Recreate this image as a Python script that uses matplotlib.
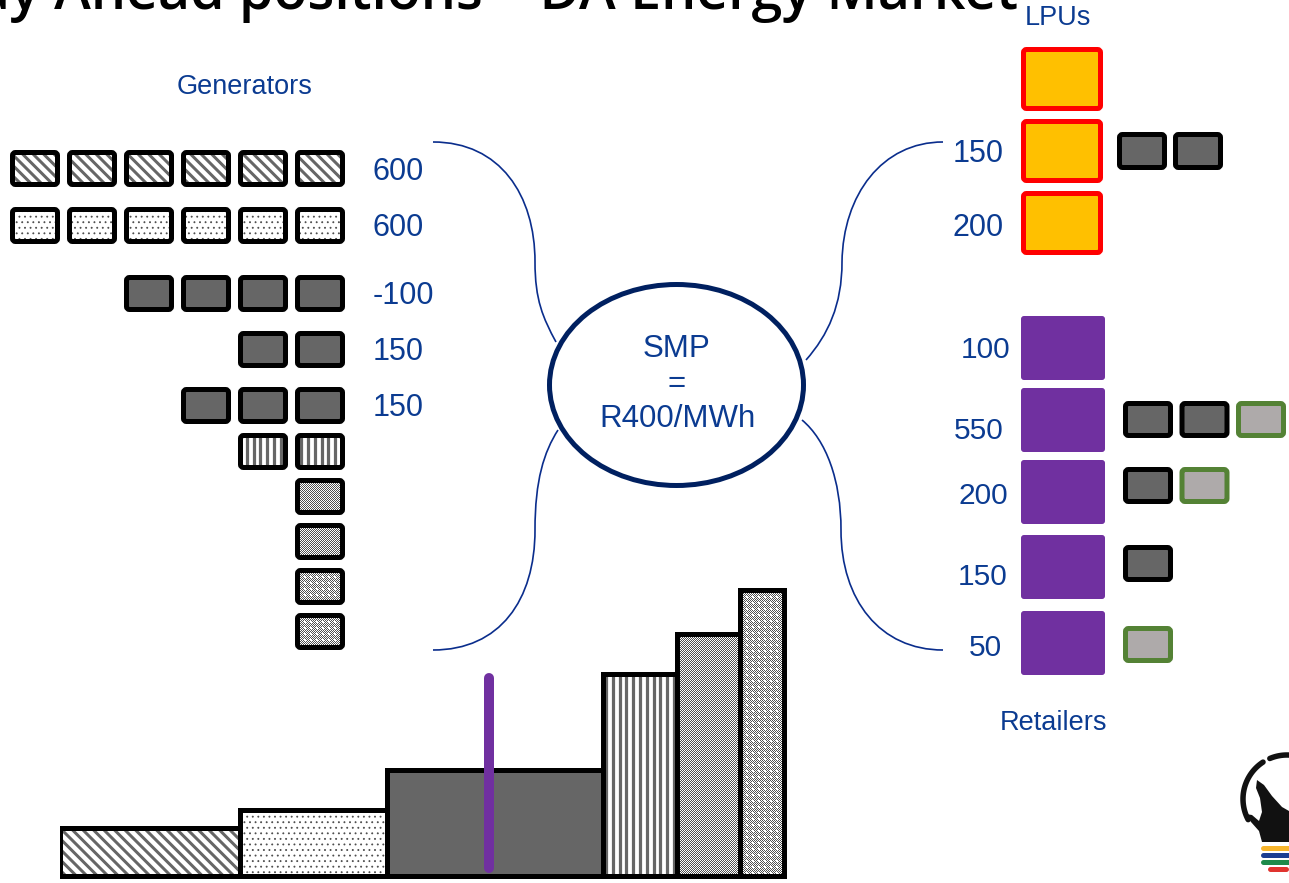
import matplotlib
matplotlib.use("Agg")
import matplotlib.pyplot as plt
from matplotlib.patches import FancyBboxPatch, Ellipse, PathPatch, Polygon, Rectangle
from matplotlib.collections import LineCollection
from matplotlib.path import Path
import numpy as np

# ---------------- data ----------------
title = "Day Ahead positions \u2013 DA Energy Market"

gen_counts = [6, 6, 4, 2, 3, 2, 1, 1, 1, 1]
gen_styles = ["diag", "dots", "solid", "solid", "solid",
              "vstripe", "checker", "checker", "checkdot", "checkdot"]
gen_prices = ["600", "600", "-100", "150", "150", "", "", "", "", ""]

lpu_labels = ["", "150", "200"]
lpu_dark = [0, 2, 0]

retailer_labels = ["100", "550", "200", "150", "50"]
retailer_dark = [0, 2, 1, 1, 0]
retailer_green = [0, 1, 1, 0, 1]

merit_styles = ["diag", "dots", "solid", "vstripe", "checker", "checkdot"]
merit_widths = [180, 147, 216, 74, 63, 44]
merit_heights = [48, 66, 106, 202, 242, 286]
demand_position = 429
demand_level = [8, 198]

smp_lines = ["SMP", "=", "R400/MWh"]

# ---------------- style ----------------
W, H = 1289, 883
BLUE = "#0B3B91"
NAVY = "#002060"
PURPLE = "#7030A0"
ORANGE = "#FFC000"
RED = "#FF0000"
DARK = "#666666"
LIGHT = "#AEAAAA"
GREEN = "#548235"
PAT = "#666666"
PX = 72 / 100  # points per pixel

plt.rcParams["font.family"] = ["Liberation Sans", "DejaVu Sans"]
plt.rcParams["hatch.linewidth"] = 0.6

FACE = {"solid": DARK, "light": LIGHT, "orange": ORANGE, "purple": PURPLE}


def add_texture(ax, clip, style, x0, y0, x1, y1, y_down, z):
    """Fill the box [x0,x1]x[y0,y1] with a pattern clipped to `clip`."""
    h = y1 - y0
    if style in ("diag", "vstripe"):
        if style == "diag":
            period, lw = 10.5, 3.0
            cs = np.arange(np.floor((x0 - h) / period) * period, x1 + period, period)
            if y_down:
                segs = [[(c, y0), (c + h, y1)] for c in cs]
            else:
                segs = [[(c, y1), (c + h, y0)] for c in cs]
        else:
            period, lw = 6.8, 3.2
            cs = np.arange(np.floor(x0 / period) * period + 2, x1 + period, period)
            segs = [[(c, y0), (c, y1)] for c in cs]
        lc = LineCollection(segs, colors=PAT, linewidths=lw * PX, zorder=z)
        ax.add_collection(lc, autolim=False)
        lc.set_clip_path(clip)
    elif style in ("checker", "checkdot"):
        nx, ny = int(np.ceil(x1 - x0)), int(np.ceil(y1 - y0))
        ii, jj = np.mgrid[0:ny, 0:nx]
        img = np.where((ii + jj) % 2 == 0, 0.32, 1.0)
        if style == "checkdot":
            spot = ((ii % 6) < 2) & ((jj % 6) < 2)
            img = np.where(spot, 1.0, img)
        rgb = np.dstack([img, img, img])
        ext = (x0, x0 + nx, y0 + ny, y0) if y_down else (x0, x0 + nx, y0, y0 + ny)
        im = ax.imshow(rgb, extent=ext, origin="upper", interpolation="nearest",
                       aspect="auto", zorder=z)
        im.set_clip_path(clip)
    elif style == "dots":
        p = Rectangle((x0, y0), x1 - x0, y1 - y0, facecolor="none",
                      edgecolor="#4d4d4d", linewidth=0, hatch="...", zorder=z)
        ax.add_patch(p)
        p.set_clip_path(clip)


def styled_box(ax, x, y, w, h, style, edge="black", lw_px=5, r=3, z=2):
    """Rounded box whose outer extent is (x, y, w, h); y grows downward."""
    ins = lw_px / 2 if edge != "none" else 0
    bx, by, bw, bh = x + ins, y + ins, w - 2 * ins, h - 2 * ins
    bs = f"round,pad=0,rounding_size={r}"
    fill = FancyBboxPatch((bx, by), bw, bh, boxstyle=bs,
                          facecolor=FACE.get(style, "white"), edgecolor="none",
                          linewidth=0, zorder=z)
    ax.add_patch(fill)
    add_texture(ax, fill, style, bx, by, bx + bw, by + bh, True, z + 0.1)
    if edge != "none":
        ax.add_patch(FancyBboxPatch((bx, by), bw, bh, boxstyle=bs,
                                    facecolor="none", edgecolor=edge,
                                    linewidth=lw_px * PX, joinstyle="round",
                                    zorder=z + 0.2))


fig = plt.figure(figsize=(W / 100, H / 100), dpi=100)
ax = fig.add_axes([0, 0, 1, 1])
ax.set_xlim(0, W)
ax.set_ylim(H, 0)
ax.axis("off")

# ---------------- title ----------------
ax.text(1018, 9, title, fontsize=40, family=["Open Sans", "DejaVu Sans"],
        fontweight="semibold", color="black", ha="right", va="baseline", zorder=5)

# ---------------- generators ----------------
ax.text(245, 87, "Generators", fontsize=19.5, color=BLUE, ha="center", va="center")
gen_right, pitch, bw, bh = 345, 57, 50, 37
gen_tops = [150, 207, 275, 331, 387, 433, 478, 523, 568, 613]
for top, n, st, price in zip(gen_tops, gen_counts, gen_styles, gen_prices):
    for k in range(n):
        x = gen_right - bw - k * pitch
        styled_box(ax, x, top, bw, bh, st)
    if price:
        ax.text(373, top + bh / 2 + 3, price, fontsize=22, color=BLUE,
                ha="left", va="center")

# ---------------- LPUs ----------------
ax.text(1058, 18, "LPUs", fontsize=19.5, color=BLUE, ha="center", va="center")
lpu_tops = [47, 119, 191]
lpu_label_dy = [0, 3, 5]
for top, lab, nd, dy in zip(lpu_tops, lpu_labels, lpu_dark, lpu_label_dy):
    styled_box(ax, 1021, top, 82, 64, "orange", edge=RED, lw_px=5, r=3)
    if lab:
        ax.text(1004, top + 32 + dy, lab, fontsize=22, color=BLUE, ha="right", va="center")
    for k in range(nd):
        styled_box(ax, 1117 + k * 56, top + 13, 50, 38, "solid")

# ---------------- retailers ----------------
ret_tops = [316, 388, 460, 535, 611]
ret_label_x = [1010, 1004, 1008, 1008, 1002]
ret_label_dy = [2, 11, 4, 10, 5]
ret_block_dy = [14, 13, 7, 10, 15]
for i, top in enumerate(ret_tops):
    styled_box(ax, 1021, top, 84, 64, "purple", edge="none", r=3)
    ax.text(ret_label_x[i], top + 32 + ret_label_dy[i], retailer_labels[i],
            fontsize=21.5, color=BLUE, ha="right", va="center")
    kinds = ["solid"] * retailer_dark[i] + ["light"] * retailer_green[i]
    for k, kind in enumerate(kinds):
        edge = "black" if kind == "solid" else GREEN
        styled_box(ax, 1123 + k * 56.5, top + ret_block_dy[i], 50, 37, kind, edge=edge)
ax.text(1053, 723, "Retailers", fontsize=19.5, color=BLUE, ha="center", va="center")

# ---------------- connecting curves ----------------
curve_kw = dict(facecolor="none", edgecolor="#0A2D8C", linewidth=1.2, zorder=3)
C4 = Path.CURVE4
curves = [
    [(433, 142), (500, 142), (535, 195), (535, 262), (535, 300), (543, 318), (556, 342)],
    [(558, 430), (544, 452), (535, 480), (535, 530), (535, 600), (500, 650), (433, 650)],
    [(943, 142), (882, 142), (843, 195), (842, 262), (842, 305), (828, 335), (806, 360)],
    [(802, 420), (826, 440), (841, 480), (841, 530), (841, 600), (880, 650), (943, 650)],
]
for pts in curves:
    codes = [Path.MOVETO] + [C4] * 6
    ax.add_patch(PathPatch(Path(pts, codes), **curve_kw))

# ---------------- SMP circle ----------------
ax.add_patch(Ellipse((676.5, 385), 254, 201, facecolor="white", edgecolor=NAVY,
                     linewidth=5 * PX, zorder=4))
for txt, yy in zip(smp_lines, [349, 384, 419]):
    ax.text(677, yy, txt, fontsize=22.5, color=BLUE, ha="center", va="center", zorder=5)

# ---------------- merit order stack ----------------
base_x, base_y = 60, 876
ymax = 300
total = sum(merit_widths) + 20
mo = fig.add_axes([base_x / W, 1 - (base_y + 10) / H, total / W, (ymax + 10) / H])
mo.set_xlim(0, total)
mo.set_ylim(-10, ymax)
mo.axis("off")
lefts = np.concatenate([[0], np.cumsum(merit_widths)[:-1]])
for left, wdt, hgt, st in zip(lefts, merit_widths, merit_heights, merit_styles):
    bars = mo.bar(left, hgt, wdt, align="edge", color=FACE.get(st, "white"),
                  edgecolor="none", linewidth=0, zorder=2)
    add_texture(mo, bars[0], st, left, 0, left + wdt, hgt, False, 2.1)
    mo.bar(left, hgt, wdt, align="edge", fill=False, edgecolor="black",
           linewidth=5 * PX, joinstyle="miter", zorder=3)
mo.plot([demand_position, demand_position], demand_level, color=PURPLE,
        linewidth=10 * PX, solid_capstyle="round", zorder=4)
mo.set_xlim(0, total)
mo.set_ylim(-10, ymax)

# ---------------- logo ----------------
cx, cy, r = 1287, 799, 44
t1 = np.radians(np.linspace(123, 208, 60))
ax.plot(cx + r * np.cos(t1), cy - r * np.sin(t1), color="#111111", lw=5.5 * PX,
        solid_capstyle="round", zorder=5)
t2 = np.radians(np.linspace(70, 113, 30))
ax.plot(cx + r * np.cos(t2), cy - r * np.sin(t2), color="#111111", lw=5.5 * PX,
        solid_capstyle="round", zorder=5)
hand = [(1257, 780), (1264, 785), (1272, 796), (1282, 807), (1289, 811),
        (1289, 842), (1262, 842), (1259, 831), (1251, 822), (1246, 814),
        (1252, 815), (1259, 821), (1262, 812), (1260, 798), (1256, 788)]
ax.add_patch(Polygon(hand, closed=True, facecolor="#111111", edgecolor="none", zorder=5))
for yy, col, x0, x1 in zip([848, 855, 862, 869],
                           ["#F7B52C", "#1B3D92", "#1E8A4A", "#E0342F"],
                           [1263, 1263, 1263, 1270], [1295, 1295, 1295, 1286]):
    ax.plot([x0, x1], [yy, yy], color=col, lw=5 * PX, solid_capstyle="round", zorder=5)

ax.set_xlim(0, W)
ax.set_ylim(H, 0)
fig.savefig("out.png", dpi=100)
